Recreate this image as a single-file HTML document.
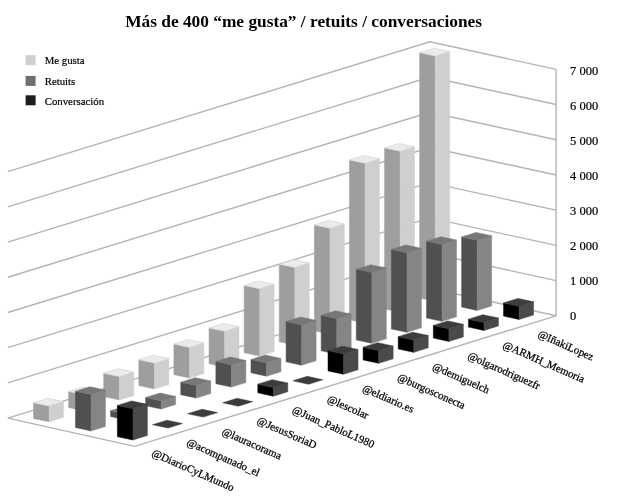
<!DOCTYPE html>
<html><head><meta charset="utf-8"><style>
html,body{margin:0;padding:0;background:#fff;width:640px;height:504px;overflow:hidden}
svg{display:block}
text{font-family:"Liberation Serif",serif;fill:#000}
.ax{font-size:12.5px;stroke:#000;stroke-width:0.2px}
.cat{font-size:10.9px;stroke:#000;stroke-width:0.25px}
.leg{font-size:10.8px;stroke:#000;stroke-width:0.2px}
.title{font-size:17.33px;font-weight:bold}
</style></head><body>
<svg style="will-change:transform" width="640" height="504" viewBox="0 0 640 504">
<rect width="640" height="504" fill="#fff"/>
<text x="303.6" y="27" text-anchor="middle" class="title">Más de 400 “me gusta” / retuits / conversaciones</text>
<polyline points="7.80,418.10 429.80,288.30 556.10,315.80" fill="none" stroke="#b4b4b4" stroke-width="1.4"/>
<polyline points="7.80,382.89 429.80,253.09 556.10,280.59" fill="none" stroke="#b4b4b4" stroke-width="1.4"/>
<polyline points="7.80,347.68 429.80,217.88 556.10,245.38" fill="none" stroke="#b4b4b4" stroke-width="1.4"/>
<polyline points="7.80,312.47 429.80,182.67 556.10,210.17" fill="none" stroke="#b4b4b4" stroke-width="1.4"/>
<polyline points="7.80,277.26 429.80,147.46 556.10,174.96" fill="none" stroke="#b4b4b4" stroke-width="1.4"/>
<polyline points="7.80,242.05 429.80,112.25 556.10,139.75" fill="none" stroke="#b4b4b4" stroke-width="1.4"/>
<polyline points="7.80,206.84 429.80,77.04 556.10,104.54" fill="none" stroke="#b4b4b4" stroke-width="1.4"/>
<polyline points="7.80,171.63 429.80,41.83 556.10,69.33" fill="none" stroke="#b4b4b4" stroke-width="1.4"/>
<line x1="556.10" y1="315.80" x2="556.10" y2="69.33" stroke="#b4b4b4" stroke-width="1.4"/>
<polyline points="7.80,418.10 134.60,446.40 556.10,315.80" fill="none" stroke="#b4b4b4" stroke-width="1.4"/>
<polygon points="419.67,297.95 435.27,301.32 435.27,56.00 419.67,52.63" fill="#9e9e9e" stroke="#9e9e9e" stroke-width="0.5" stroke-linejoin="round"/>
<polygon points="435.27,301.32 449.67,296.83 449.67,51.50 435.27,56.00" fill="#cfcfcf" stroke="#cfcfcf" stroke-width="0.5" stroke-linejoin="round"/>
<polygon points="419.67,52.63 435.27,56.00 449.67,51.50 434.07,48.13" fill="#ebebeb" stroke="#d4d4d4" stroke-width="0.7" stroke-linejoin="round"/>
<polygon points="461.61,307.03 477.21,310.41 477.21,240.30 461.61,236.93" fill="#505050" stroke="#505050" stroke-width="0.5" stroke-linejoin="round"/>
<polygon points="477.21,310.41 491.61,305.91 491.61,235.80 477.21,240.30" fill="#858585" stroke="#858585" stroke-width="0.5" stroke-linejoin="round"/>
<polygon points="461.61,236.93 477.21,240.30 491.61,235.80 476.01,232.43" fill="#777777" stroke="#777777" stroke-width="0.5" stroke-linejoin="round"/>
<polygon points="384.56,308.91 400.16,312.28 400.16,151.25 384.56,147.88" fill="#9e9e9e" stroke="#9e9e9e" stroke-width="0.5" stroke-linejoin="round"/>
<polygon points="400.16,312.28 414.56,307.78 414.56,146.75 400.16,151.25" fill="#cfcfcf" stroke="#cfcfcf" stroke-width="0.5" stroke-linejoin="round"/>
<polygon points="384.56,147.88 400.16,151.25 414.56,146.75 398.96,143.38" fill="#ebebeb" stroke="#d4d4d4" stroke-width="0.7" stroke-linejoin="round"/>
<polygon points="503.55,316.12 519.15,319.50 519.15,306.25 503.55,302.88" fill="#000000" stroke="#000000" stroke-width="0.5" stroke-linejoin="round"/>
<polygon points="519.15,319.50 533.55,315.00 533.55,301.75 519.15,306.25" fill="#4a4a4a" stroke="#4a4a4a" stroke-width="0.5" stroke-linejoin="round"/>
<polygon points="503.55,302.88 519.15,306.25 533.55,301.75 517.95,298.38" fill="#3c3c3c" stroke="#3c3c3c" stroke-width="0.5" stroke-linejoin="round"/>
<polygon points="426.50,317.99 442.10,321.37 442.10,244.50 426.50,241.13" fill="#505050" stroke="#505050" stroke-width="0.5" stroke-linejoin="round"/>
<polygon points="442.10,321.37 456.50,316.87 456.50,240.00 442.10,244.50" fill="#858585" stroke="#858585" stroke-width="0.5" stroke-linejoin="round"/>
<polygon points="426.50,241.13 442.10,244.50 456.50,240.00 440.90,236.63" fill="#777777" stroke="#777777" stroke-width="0.5" stroke-linejoin="round"/>
<polygon points="349.45,319.86 365.05,323.24 365.05,163.30 349.45,159.93" fill="#9e9e9e" stroke="#9e9e9e" stroke-width="0.5" stroke-linejoin="round"/>
<polygon points="365.05,323.24 379.45,318.74 379.45,158.80 365.05,163.30" fill="#cfcfcf" stroke="#cfcfcf" stroke-width="0.5" stroke-linejoin="round"/>
<polygon points="349.45,159.93 365.05,163.30 379.45,158.80 363.85,155.43" fill="#ebebeb" stroke="#d4d4d4" stroke-width="0.7" stroke-linejoin="round"/>
<polygon points="468.44,327.08 484.04,330.45 484.04,322.50 468.44,319.13" fill="#000000" stroke="#000000" stroke-width="0.5" stroke-linejoin="round"/>
<polygon points="484.04,330.45 498.44,325.96 498.44,318.00 484.04,322.50" fill="#4a4a4a" stroke="#4a4a4a" stroke-width="0.5" stroke-linejoin="round"/>
<polygon points="468.44,319.13 484.04,322.50 498.44,318.00 482.84,314.63" fill="#3c3c3c" stroke="#3c3c3c" stroke-width="0.5" stroke-linejoin="round"/>
<polygon points="391.39,328.95 406.99,332.32 406.99,252.80 391.39,249.43" fill="#505050" stroke="#505050" stroke-width="0.5" stroke-linejoin="round"/>
<polygon points="406.99,332.32 421.39,327.83 421.39,248.30 406.99,252.80" fill="#858585" stroke="#858585" stroke-width="0.5" stroke-linejoin="round"/>
<polygon points="391.39,249.43 406.99,252.80 421.39,248.30 405.79,244.93" fill="#777777" stroke="#777777" stroke-width="0.5" stroke-linejoin="round"/>
<polygon points="314.35,330.82 329.95,334.19 329.95,228.30 314.35,224.93" fill="#9e9e9e" stroke="#9e9e9e" stroke-width="0.5" stroke-linejoin="round"/>
<polygon points="329.95,334.19 344.35,329.70 344.35,223.80 329.95,228.30" fill="#cfcfcf" stroke="#cfcfcf" stroke-width="0.5" stroke-linejoin="round"/>
<polygon points="314.35,224.93 329.95,228.30 344.35,223.80 328.75,220.43" fill="#ebebeb" stroke="#d4d4d4" stroke-width="0.7" stroke-linejoin="round"/>
<polygon points="433.33,338.03 448.93,341.41 448.93,328.75 433.33,325.38" fill="#000000" stroke="#000000" stroke-width="0.5" stroke-linejoin="round"/>
<polygon points="448.93,341.41 463.33,336.91 463.33,324.25 448.93,328.75" fill="#4a4a4a" stroke="#4a4a4a" stroke-width="0.5" stroke-linejoin="round"/>
<polygon points="433.33,325.38 448.93,328.75 463.33,324.25 447.73,320.88" fill="#3c3c3c" stroke="#3c3c3c" stroke-width="0.5" stroke-linejoin="round"/>
<polygon points="356.29,339.91 371.89,343.28 371.89,272.60 356.29,269.23" fill="#505050" stroke="#505050" stroke-width="0.5" stroke-linejoin="round"/>
<polygon points="371.89,343.28 386.29,338.78 386.29,268.10 371.89,272.60" fill="#858585" stroke="#858585" stroke-width="0.5" stroke-linejoin="round"/>
<polygon points="356.29,269.23 371.89,272.60 386.29,268.10 370.69,264.73" fill="#777777" stroke="#777777" stroke-width="0.5" stroke-linejoin="round"/>
<polygon points="279.24,341.78 294.84,345.15 294.84,267.50 279.24,264.13" fill="#9e9e9e" stroke="#9e9e9e" stroke-width="0.5" stroke-linejoin="round"/>
<polygon points="294.84,345.15 309.24,340.66 309.24,263.00 294.84,267.50" fill="#cfcfcf" stroke="#cfcfcf" stroke-width="0.5" stroke-linejoin="round"/>
<polygon points="279.24,264.13 294.84,267.50 309.24,263.00 293.64,259.63" fill="#ebebeb" stroke="#d4d4d4" stroke-width="0.7" stroke-linejoin="round"/>
<polygon points="398.23,348.99 413.83,352.37 413.83,340.00 398.23,336.63" fill="#000000" stroke="#000000" stroke-width="0.5" stroke-linejoin="round"/>
<polygon points="413.83,352.37 428.23,347.87 428.23,335.50 413.83,340.00" fill="#4a4a4a" stroke="#4a4a4a" stroke-width="0.5" stroke-linejoin="round"/>
<polygon points="398.23,336.63 413.83,340.00 428.23,335.50 412.63,332.13" fill="#3c3c3c" stroke="#3c3c3c" stroke-width="0.5" stroke-linejoin="round"/>
<polygon points="321.18,350.86 336.78,354.24 336.78,318.70 321.18,315.33" fill="#505050" stroke="#505050" stroke-width="0.5" stroke-linejoin="round"/>
<polygon points="336.78,354.24 351.18,349.74 351.18,314.20 336.78,318.70" fill="#858585" stroke="#858585" stroke-width="0.5" stroke-linejoin="round"/>
<polygon points="321.18,315.33 336.78,318.70 351.18,314.20 335.58,310.83" fill="#777777" stroke="#777777" stroke-width="0.5" stroke-linejoin="round"/>
<polygon points="244.14,352.73 259.74,356.11 259.74,288.75 244.14,285.38" fill="#9e9e9e" stroke="#9e9e9e" stroke-width="0.5" stroke-linejoin="round"/>
<polygon points="259.74,356.11 274.14,351.61 274.14,284.25 259.74,288.75" fill="#cfcfcf" stroke="#cfcfcf" stroke-width="0.5" stroke-linejoin="round"/>
<polygon points="244.14,285.38 259.74,288.75 274.14,284.25 258.54,280.88" fill="#ebebeb" stroke="#d4d4d4" stroke-width="0.7" stroke-linejoin="round"/>
<polygon points="363.12,359.95 378.72,363.32 378.72,350.50 363.12,347.13" fill="#000000" stroke="#000000" stroke-width="0.5" stroke-linejoin="round"/>
<polygon points="378.72,363.32 393.12,358.83 393.12,346.00 378.72,350.50" fill="#4a4a4a" stroke="#4a4a4a" stroke-width="0.5" stroke-linejoin="round"/>
<polygon points="363.12,347.13 378.72,350.50 393.12,346.00 377.52,342.63" fill="#3c3c3c" stroke="#3c3c3c" stroke-width="0.5" stroke-linejoin="round"/>
<polygon points="286.08,361.82 301.68,365.19 301.68,324.90 286.08,321.53" fill="#505050" stroke="#505050" stroke-width="0.5" stroke-linejoin="round"/>
<polygon points="301.68,365.19 316.08,360.70 316.08,320.40 301.68,324.90" fill="#858585" stroke="#858585" stroke-width="0.5" stroke-linejoin="round"/>
<polygon points="286.08,321.53 301.68,324.90 316.08,320.40 300.48,317.03" fill="#777777" stroke="#777777" stroke-width="0.5" stroke-linejoin="round"/>
<polygon points="209.03,363.69 224.63,367.06 224.63,331.25 209.03,327.88" fill="#9e9e9e" stroke="#9e9e9e" stroke-width="0.5" stroke-linejoin="round"/>
<polygon points="224.63,367.06 239.03,362.57 239.03,326.75 224.63,331.25" fill="#cfcfcf" stroke="#cfcfcf" stroke-width="0.5" stroke-linejoin="round"/>
<polygon points="209.03,327.88 224.63,331.25 239.03,326.75 223.43,323.38" fill="#ebebeb" stroke="#d4d4d4" stroke-width="0.7" stroke-linejoin="round"/>
<polygon points="328.02,370.91 343.62,374.28 343.62,354.00 328.02,350.63" fill="#000000" stroke="#000000" stroke-width="0.5" stroke-linejoin="round"/>
<polygon points="343.62,374.28 358.02,369.78 358.02,349.50 343.62,354.00" fill="#4a4a4a" stroke="#4a4a4a" stroke-width="0.5" stroke-linejoin="round"/>
<polygon points="328.02,350.63 343.62,354.00 358.02,349.50 342.42,346.13" fill="#3c3c3c" stroke="#3c3c3c" stroke-width="0.5" stroke-linejoin="round"/>
<polygon points="250.97,372.78 266.57,376.15 266.57,362.90 250.97,359.53" fill="#505050" stroke="#505050" stroke-width="0.5" stroke-linejoin="round"/>
<polygon points="266.57,376.15 280.97,371.66 280.97,358.40 266.57,362.90" fill="#858585" stroke="#858585" stroke-width="0.5" stroke-linejoin="round"/>
<polygon points="250.97,359.53 266.57,362.90 280.97,358.40 265.37,355.03" fill="#777777" stroke="#777777" stroke-width="0.5" stroke-linejoin="round"/>
<polygon points="173.92,374.65 189.52,378.02 189.52,347.40 173.92,344.03" fill="#9e9e9e" stroke="#9e9e9e" stroke-width="0.5" stroke-linejoin="round"/>
<polygon points="189.52,378.02 203.92,373.53 203.92,342.90 189.52,347.40" fill="#cfcfcf" stroke="#cfcfcf" stroke-width="0.5" stroke-linejoin="round"/>
<polygon points="173.92,344.03 189.52,347.40 203.92,342.90 188.32,339.53" fill="#ebebeb" stroke="#d4d4d4" stroke-width="0.7" stroke-linejoin="round"/>
<polygon points="292.91,380.86 308.51,384.24 322.91,379.74 307.31,376.37" fill="#3c3c3c" stroke="#3c3c3c" stroke-width="0.5" stroke-linejoin="round"/>
<polygon points="215.86,383.73 231.46,387.11 231.46,364.90 215.86,361.53" fill="#505050" stroke="#505050" stroke-width="0.5" stroke-linejoin="round"/>
<polygon points="231.46,387.11 245.86,382.61 245.86,360.40 231.46,364.90" fill="#858585" stroke="#858585" stroke-width="0.5" stroke-linejoin="round"/>
<polygon points="215.86,361.53 231.46,364.90 245.86,360.40 230.26,357.03" fill="#777777" stroke="#777777" stroke-width="0.5" stroke-linejoin="round"/>
<polygon points="138.82,385.60 154.42,388.98 154.42,363.10 138.82,359.73" fill="#9e9e9e" stroke="#9e9e9e" stroke-width="0.5" stroke-linejoin="round"/>
<polygon points="154.42,388.98 168.82,384.48 168.82,358.60 154.42,363.10" fill="#cfcfcf" stroke="#cfcfcf" stroke-width="0.5" stroke-linejoin="round"/>
<polygon points="138.82,359.73 154.42,363.10 168.82,358.60 153.22,355.23" fill="#ebebeb" stroke="#d4d4d4" stroke-width="0.7" stroke-linejoin="round"/>
<polygon points="257.80,392.82 273.40,396.19 273.40,387.50 257.80,384.13" fill="#000000" stroke="#000000" stroke-width="0.5" stroke-linejoin="round"/>
<polygon points="273.40,396.19 287.80,391.70 287.80,383.00 273.40,387.50" fill="#4a4a4a" stroke="#4a4a4a" stroke-width="0.5" stroke-linejoin="round"/>
<polygon points="257.80,384.13 273.40,387.50 287.80,383.00 272.20,379.63" fill="#3c3c3c" stroke="#3c3c3c" stroke-width="0.5" stroke-linejoin="round"/>
<polygon points="180.76,394.69 196.36,398.07 196.36,385.50 180.76,382.13" fill="#505050" stroke="#505050" stroke-width="0.5" stroke-linejoin="round"/>
<polygon points="196.36,398.07 210.76,393.57 210.76,381.00 196.36,385.50" fill="#858585" stroke="#858585" stroke-width="0.5" stroke-linejoin="round"/>
<polygon points="180.76,382.13 196.36,385.50 210.76,381.00 195.16,377.63" fill="#777777" stroke="#777777" stroke-width="0.5" stroke-linejoin="round"/>
<polygon points="103.71,396.56 119.31,399.94 119.31,376.60 103.71,373.23" fill="#9e9e9e" stroke="#9e9e9e" stroke-width="0.5" stroke-linejoin="round"/>
<polygon points="119.31,399.94 133.71,395.44 133.71,372.10 119.31,376.60" fill="#cfcfcf" stroke="#cfcfcf" stroke-width="0.5" stroke-linejoin="round"/>
<polygon points="103.71,373.23 119.31,376.60 133.71,372.10 118.11,368.73" fill="#ebebeb" stroke="#d4d4d4" stroke-width="0.7" stroke-linejoin="round"/>
<polygon points="222.70,402.78 238.30,406.15 252.70,401.66 237.10,398.28" fill="#3c3c3c" stroke="#3c3c3c" stroke-width="0.5" stroke-linejoin="round"/>
<polygon points="145.65,405.65 161.25,409.02 161.25,400.90 145.65,397.53" fill="#505050" stroke="#505050" stroke-width="0.5" stroke-linejoin="round"/>
<polygon points="161.25,409.02 175.65,404.53 175.65,396.40 161.25,400.90" fill="#858585" stroke="#858585" stroke-width="0.5" stroke-linejoin="round"/>
<polygon points="145.65,397.53 161.25,400.90 175.65,396.40 160.05,393.03" fill="#777777" stroke="#777777" stroke-width="0.5" stroke-linejoin="round"/>
<polygon points="68.61,407.52 84.21,410.89 84.21,394.80 68.61,391.43" fill="#9e9e9e" stroke="#9e9e9e" stroke-width="0.5" stroke-linejoin="round"/>
<polygon points="84.21,410.89 98.61,406.40 98.61,390.30 84.21,394.80" fill="#cfcfcf" stroke="#cfcfcf" stroke-width="0.5" stroke-linejoin="round"/>
<polygon points="68.61,391.43 84.21,394.80 98.61,390.30 83.01,386.93" fill="#ebebeb" stroke="#d4d4d4" stroke-width="0.7" stroke-linejoin="round"/>
<polygon points="187.59,413.73 203.19,417.11 217.59,412.61 201.99,409.24" fill="#3c3c3c" stroke="#3c3c3c" stroke-width="0.5" stroke-linejoin="round"/>
<polygon points="110.55,416.60 126.15,419.98 126.15,414.10 110.55,410.73" fill="#505050" stroke="#505050" stroke-width="0.5" stroke-linejoin="round"/>
<polygon points="126.15,419.98 140.55,415.48 140.55,409.60 126.15,414.10" fill="#858585" stroke="#858585" stroke-width="0.5" stroke-linejoin="round"/>
<polygon points="110.55,410.73 126.15,414.10 140.55,409.60 124.95,406.23" fill="#777777" stroke="#777777" stroke-width="0.5" stroke-linejoin="round"/>
<polygon points="33.50,418.48 49.10,421.85 49.10,406.10 33.50,402.73" fill="#9e9e9e" stroke="#9e9e9e" stroke-width="0.5" stroke-linejoin="round"/>
<polygon points="49.10,421.85 63.50,417.35 63.50,401.60 49.10,406.10" fill="#cfcfcf" stroke="#cfcfcf" stroke-width="0.5" stroke-linejoin="round"/>
<polygon points="33.50,402.73 49.10,406.10 63.50,401.60 47.90,398.23" fill="#ebebeb" stroke="#d4d4d4" stroke-width="0.7" stroke-linejoin="round"/>
<polygon points="152.49,424.69 168.09,428.07 182.49,423.57 166.89,420.20" fill="#3c3c3c" stroke="#3c3c3c" stroke-width="0.5" stroke-linejoin="round"/>
<polygon points="75.44,427.56 91.04,430.94 91.04,394.60 75.44,391.23" fill="#505050" stroke="#505050" stroke-width="0.5" stroke-linejoin="round"/>
<polygon points="91.04,430.94 105.44,426.44 105.44,390.10 91.04,394.60" fill="#858585" stroke="#858585" stroke-width="0.5" stroke-linejoin="round"/>
<polygon points="75.44,391.23 91.04,394.60 105.44,390.10 89.84,386.73" fill="#777777" stroke="#777777" stroke-width="0.5" stroke-linejoin="round"/>
<polygon points="117.38,436.65 132.98,440.02 132.98,408.80 117.38,405.43" fill="#000000" stroke="#000000" stroke-width="0.5" stroke-linejoin="round"/>
<polygon points="132.98,440.02 147.38,435.53 147.38,404.30 132.98,408.80" fill="#4a4a4a" stroke="#4a4a4a" stroke-width="0.5" stroke-linejoin="round"/>
<polygon points="117.38,405.43 132.98,408.80 147.38,404.30 131.78,400.93" fill="#3c3c3c" stroke="#3c3c3c" stroke-width="0.5" stroke-linejoin="round"/>
<text x="570" y="319.70" class="ax">0</text>
<text x="570" y="284.80" class="ax">1 000</text>
<text x="570" y="249.90" class="ax">2 000</text>
<text x="570" y="215.00" class="ax">3 000</text>
<text x="570" y="180.10" class="ax">4 000</text>
<text x="570" y="145.20" class="ax">5 000</text>
<text x="570" y="110.30" class="ax">6 000</text>
<text x="570" y="75.40" class="ax">7 000</text>
<text x="151.00" y="455.60" class="cat" transform="rotate(23.8 151.00 455.60)">@DiarioCyLMundo</text>
<text x="186.11" y="444.78" class="cat" transform="rotate(23.8 186.11 444.78)">@acompanado_el</text>
<text x="221.21" y="433.96" class="cat" transform="rotate(23.8 221.21 433.96)">@lauracorama</text>
<text x="256.32" y="423.14" class="cat" transform="rotate(23.8 256.32 423.14)">@JesusSoriaD</text>
<text x="291.42" y="412.32" class="cat" transform="rotate(23.8 291.42 412.32)">@Juan_PabloL1980</text>
<text x="326.53" y="401.50" class="cat" transform="rotate(23.8 326.53 401.50)">@lescolar</text>
<text x="361.64" y="390.68" class="cat" transform="rotate(23.8 361.64 390.68)">@eldiario.es</text>
<text x="396.74" y="379.86" class="cat" transform="rotate(23.8 396.74 379.86)">@burgosconecta</text>
<text x="431.85" y="369.04" class="cat" transform="rotate(23.8 431.85 369.04)">@demiguelch</text>
<text x="466.95" y="358.22" class="cat" transform="rotate(23.8 466.95 358.22)">@olgarodriguezfr</text>
<text x="502.06" y="347.40" class="cat" transform="rotate(23.8 502.06 347.40)">@ARMH_Memoria</text>
<text x="537.17" y="336.58" class="cat" transform="rotate(23.8 537.17 336.58)">@IñakiLopez</text>
<rect x="25.6" y="55.20" width="10" height="10" fill="#cfcfcf"/>
<text x="44.7" y="64.40" class="leg">Me gusta</text>
<rect x="25.6" y="75.90" width="10" height="10" fill="#6e6e6e"/>
<text x="44.7" y="85.10" class="leg">Retuits</text>
<rect x="25.6" y="95.30" width="10" height="10" fill="#1e1e1e"/>
<text x="44.7" y="104.50" class="leg">Conversación</text>
</svg>
</body></html>
